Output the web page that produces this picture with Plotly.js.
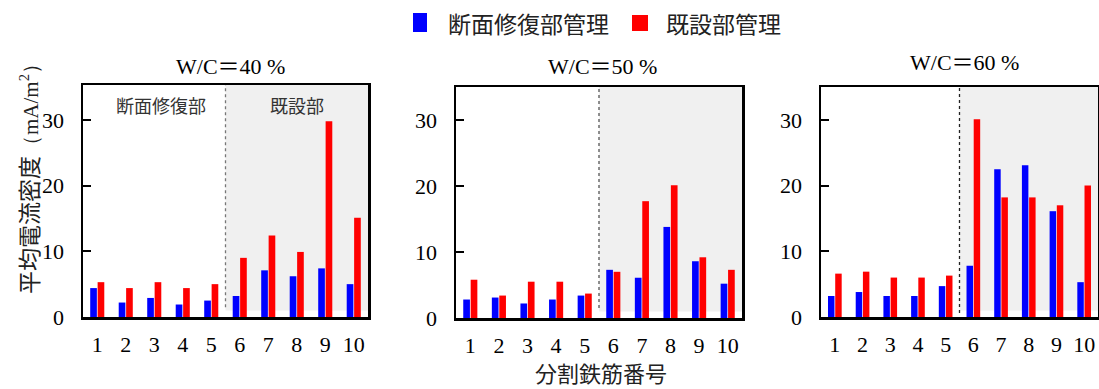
<!DOCTYPE html>
<html>
<head>
<meta charset="utf-8">
<script src="https://cdn.plot.ly/plotly-3.0.1.min.js"></script>
<style>
  html, body { margin: 0; padding: 0; background: #fff; }
  #chart { width: 1099px; height: 389px; }
</style>
</head>
<body>
<div id="chart"></div>
<script>
// Rebar segment numbers (1–5: repaired section, 6–10: existing concrete)
const segments = [1, 2, 3, 4, 5, 6, 7, 8, 9, 10];
const tickLabels = ['1', '2', '3', '4', '5', '6', '7', '8', '9', '10'];

// Average current density (mA/m²), managed by repaired-section criterion / existing-section criterion
const wc40Repair   = [4.4, 2.2, 2.9, 1.9, 2.5, 3.2, 7.1, 6.2, 7.4, 5.0];
const wc40Existing = [5.3, 4.4, 5.3, 4.4, 5.0, 9.0, 12.4, 9.9, 29.8, 15.1];
const wc50Repair   = [2.8, 3.1, 2.2, 2.8, 3.4, 7.3, 6.1, 13.8, 8.6, 5.2];
const wc50Existing = [5.8, 3.4, 5.5, 5.5, 3.7, 7.0, 17.7, 20.1, 9.2, 7.3];
const wc60Repair   = [3.2, 3.8, 3.2, 3.2, 4.7, 7.8, 22.5, 23.1, 16.1, 5.3];
const wc60Existing = [6.6, 6.9, 6.0, 6.0, 6.3, 30.1, 18.2, 18.2, 17.0, 20.0];

const panelTitles = ['W/C＝40 %', 'W/C＝50 %', 'W/C＝60 %'];
const seriesNames = ['断面修復部管理', '既設部管理'];
const seriesColors = ['#0000ff', '#ff0000'];

const W = 1099, H = 389;
const px = v => v / W;
const py = v => 1 - v / H;

const SERIF = '"Liberation Serif", "Times New Roman", "Noto Sans CJK JP", serif';
const CJK = '"Noto Sans CJK JP", sans-serif';

// Panel frames in pixels: [left, right, top, bottom], plus y-range maximum
const frames = [
  { l: 83,  r: 368,  t: 85, b: 317, ymax: 35.3, dash: '#777', titleX: 230, titleY: 66 },
  { l: 456, r: 742,  t: 87, b: 318, ymax: 35.0, dash: '#555', titleX: 602, titleY: 66 },
  { l: 821, r: 1098, t: 87, b: 317, ymax: 35.0, dash: '#222', titleX: 964, titleY: 62 }
];

const panelData = [
  [wc40Repair, wc40Existing],
  [wc50Repair, wc50Existing],
  [wc60Repair, wc60Existing]
];

const traces = [];
const layout = {
  width: W, height: H,
  margin: { l: 0, r: 0, t: 0, b: 0 },
  paper_bgcolor: '#ffffff',
  plot_bgcolor: '#ffffff',
  showlegend: false,
  barmode: 'group',
  bargap: 0.48,
  bargroupgap: 0.1,
  shapes: [],
  annotations: []
};

frames.forEach((f, i) => {
  const n = i === 0 ? '' : String(i + 1);
  const xa = 'x' + n, ya = 'y' + n;

  panelData[i].forEach((vals, s) => {
    traces.push({
      type: 'bar',
      x: segments,
      y: vals,
      name: seriesNames[s],
      xaxis: xa, yaxis: ya,
      marker: { color: seriesColors[s], line: { width: 0 } },
      hoverinfo: 'x+y+name'
    });
  });

  layout['xaxis' + n] = {
    domain: [px(f.l), px(f.r)],
    anchor: ya,
    range: [0.5, 10.5],
    tickvals: segments,
    ticktext: tickLabels,
    ticks: '',
    showgrid: false,
    zeroline: false,
    showline: true, linecolor: '#000', linewidth: 2.5, mirror: true,
    tickfont: { family: SERIF, size: 22, color: '#000' },
    ticklabelstandoff: 6,
    fixedrange: true
  };
  layout['yaxis' + n] = {
    domain: [py(f.b), py(f.t)],
    anchor: xa,
    range: [0, f.ymax],
    tickvals: [0, 10, 20, 30],
    ticktext: ['0', '10', '20', '30'],
    ticks: 'inside', ticklen: 8, tickwidth: 2, tickcolor: '#000',
    showgrid: false,
    zeroline: false,
    showline: true, linecolor: '#000', linewidth: 2.5, mirror: true,
    tickfont: { family: SERIF, size: 22, color: '#000' },
    ticklabelstandoff: 12,
    fixedrange: true
  };

  // Shaded existing-concrete zone (segments 6–10)
  layout.shapes.push({
    type: 'rect', layer: 'below',
    xref: xa, yref: ya,
    x0: 5.5, x1: 10.5, y0: 1.0, y1: f.ymax,
    fillcolor: '#f0f0f0', line: { width: 0 }
  });
  // Boundary between repaired section and existing concrete
  layout.shapes.push({
    type: 'line', layer: 'below',
    xref: xa, yref: ya,
    x0: 5.5, x1: 5.5, y0: i === 2 ? 0.6 : 1.5, y1: i === 2 ? f.ymax + 0.5 : f.ymax,
    line: { color: f.dash, width: 1.3, dash: 'dot' }
  });

  layout.annotations.push({
    xref: 'paper', yref: 'paper',
    x: px(f.titleX), y: py(f.titleY),
    xanchor: 'center', yanchor: 'middle',
    text: panelTitles[i], showarrow: false,
    font: { family: SERIF, size: 22, color: '#000' }
  });
});

// Zone labels in the first panel
layout.annotations.push(
  { xref: 'paper', yref: 'paper', x: px(161), y: py(105), xanchor: 'center', yanchor: 'middle',
    text: '断面修復部', showarrow: false, font: { family: CJK, size: 18, color: '#333' } },
  { xref: 'paper', yref: 'paper', x: px(297), y: py(105), xanchor: 'center', yanchor: 'middle',
    text: '既設部', showarrow: false, font: { family: CJK, size: 18, color: '#333' } }
);

// Axis titles
layout.annotations.push(
  { xref: 'paper', yref: 'paper', x: px(601), y: py(389), xanchor: 'center', yanchor: 'bottom',
    borderpad: 0,
    text: '分割鉄筋番号', showarrow: false, font: { family: CJK, size: 22, color: '#222' } },
  { xref: 'paper', yref: 'paper', x: px(28), y: py(174), xanchor: 'center', yanchor: 'middle',
    textangle: -90, showarrow: false,
    text: '平均電流密度<span style="font-family:Liberation Serif;font-size:21px">（mA/m<sup>2</sup>）</span>',
    font: { family: CJK, size: 23, color: '#222' } }
);

// Legend
layout.shapes.push(
  { type: 'rect', xref: 'paper', yref: 'paper',
    x0: px(413), x1: px(427), y0: py(32), y1: py(13),
    fillcolor: seriesColors[0], line: { width: 0 } },
  { type: 'rect', xref: 'paper', yref: 'paper',
    x0: px(632), x1: px(648), y0: py(31), y1: py(15),
    fillcolor: seriesColors[1], line: { width: 0 } }
);
layout.annotations.push(
  { xref: 'paper', yref: 'paper', x: px(446), y: py(23), xanchor: 'left', yanchor: 'middle',
    text: seriesNames[0], showarrow: false, font: { family: CJK, size: 23, color: '#222' } },
  { xref: 'paper', yref: 'paper', x: px(664), y: py(23), xanchor: 'left', yanchor: 'middle',
    text: seriesNames[1], showarrow: false, font: { family: CJK, size: 23, color: '#222' } }
);

Plotly.newPlot('chart', traces, layout, { displayModeBar: false, staticPlot: true });
</script>
</body>
</html>
